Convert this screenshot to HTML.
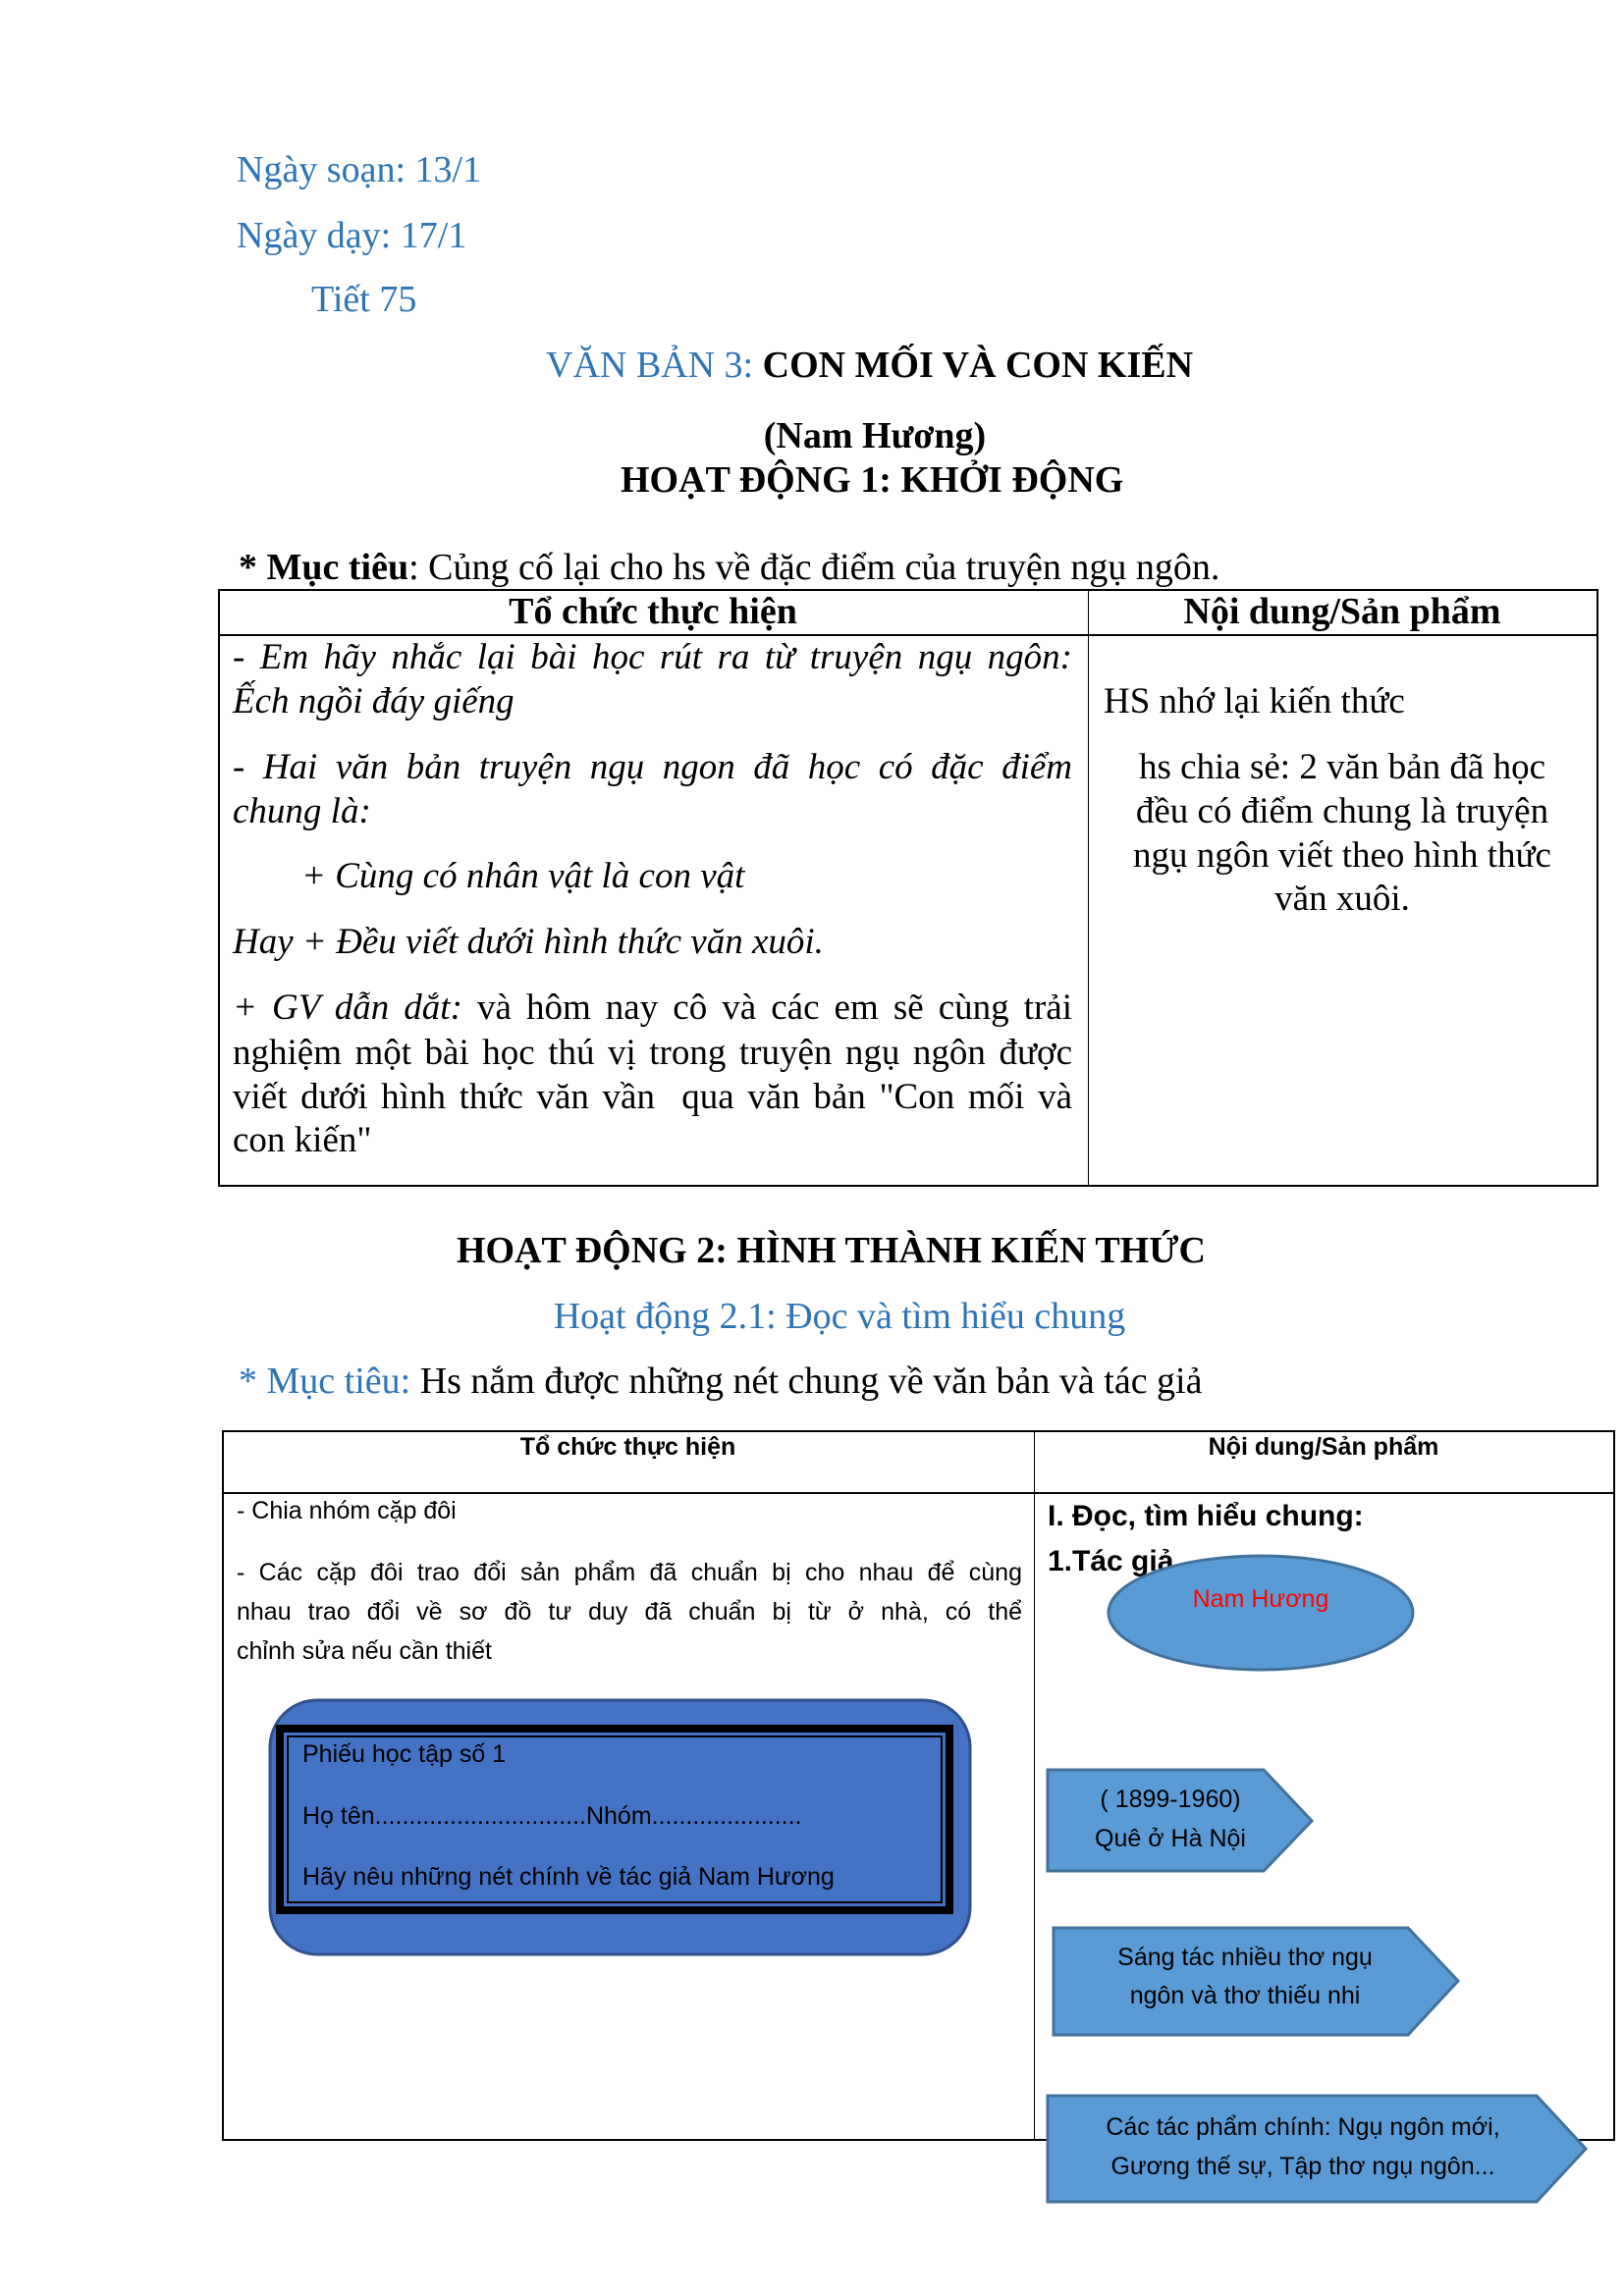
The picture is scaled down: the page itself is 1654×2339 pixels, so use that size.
<!DOCTYPE html>
<html><head><meta charset="utf-8"><style>
body{margin:0;background:#fff;}
#p{position:relative;width:1654px;height:2339px;overflow:hidden;font-family:"Liberation Serif",serif;color:#000;}
.t{position:absolute;white-space:nowrap;line-height:1;}
.b{color:#2e74b5;}
.j{position:absolute;line-height:1;text-align:justify;text-align-last:justify;white-space:nowrap;}
.c{font-family:"Liberation Sans",sans-serif;}
</style></head><body><div id="p">
<div class="t b" style="left:241px;top:154px;font-size:38px">Ngày soạn: 13/1</div>
<div class="t b" style="left:241px;top:221px;font-size:38px">Ngày dạy: 17/1</div>
<div class="t b" style="left:317px;top:286px;font-size:38px">Tiết 75</div>
<div class="t" style="left:556px;top:353px;font-size:38px"><span class="b">VĂN BẢN 3: </span><b>CON MỐI VÀ CON KIẾN</b></div>
<div class="t" style="left:0;width:1782px;text-align:center;top:425px;font-size:38px"><b>(Nam Hương)</b></div>
<div class="t" style="left:632px;top:470px;font-size:38px"><b>HOẠT ĐỘNG 1: KHỞI ĐỘNG</b></div>
<div class="t" style="left:243px;top:559px;font-size:38px"><b>* Mục tiêu</b>: Củng cố lại cho hs về đặc điểm của truyện ngụ ngôn.</div>

<div style="position:absolute;left:222px;top:600px;width:1402px;height:605px;border:2px solid #000"></div>
<div style="position:absolute;left:222px;top:646px;width:1404px;height:2px;background:#000"></div>
<div style="position:absolute;left:1108px;top:600px;width:1px;height:607px;background:#000"></div>
<div class="t" style="left:222px;width:886px;text-align:center;top:604px;font-size:38px"><b>Tổ chức thực hiện</b></div>
<div class="t" style="left:1108px;width:518px;text-align:center;top:604px;font-size:38px"><b>Nội dung/Sản phẩm</b></div>

<div class="j" style="left:237px;width:855px;top:651px;font-size:37px"><i>- Em hãy nhắc lại bài học rút ra từ truyện ngụ ngôn:</i></div>
<div class="t" style="left:237px;top:696px;font-size:37px"><i>Ếch ngồi đáy giếng</i></div>
<div class="j" style="left:237px;width:855px;top:763px;font-size:37px"><i>- Hai văn bản truyện ngụ ngon đã học có đặc điểm</i></div>
<div class="t" style="left:237px;top:808px;font-size:37px"><i>chung là:</i></div>
<div class="t" style="left:307px;top:874px;font-size:37px"><i>+ Cùng có nhân vật là con vật</i></div>
<div class="t" style="left:237px;top:941px;font-size:37px"><i>Hay + Đều viết dưới hình thức văn xuôi.</i></div>
<div class="j" style="left:237px;width:855px;top:1008px;font-size:37px"><i>+ GV dẫn dắt:</i> và hôm nay cô và các em sẽ cùng trải</div>
<div class="j" style="left:237px;width:855px;top:1054px;font-size:37px">nghiệm một bài học thú vị trong truyện ngụ ngôn được</div>
<div class="j" style="left:237px;width:855px;top:1099px;font-size:37px">viết dưới hình thức văn vần&nbsp; qua văn bản "Con mối và</div>
<div class="t" style="left:237px;top:1143px;font-size:37px">con kiến"</div>

<div class="t" style="left:1124px;top:696px;font-size:37px">HS nhớ lại kiến thức</div>
<div class="t" style="left:1108px;width:518px;text-align:center;top:763px;font-size:37px">hs chia sẻ: 2 văn bản đã học</div>
<div class="t" style="left:1108px;width:518px;text-align:center;top:808px;font-size:37px">đều có điểm chung là truyện</div>
<div class="t" style="left:1108px;width:518px;text-align:center;top:853px;font-size:37px">ngụ ngôn viết theo hình thức</div>
<div class="t" style="left:1108px;width:518px;text-align:center;top:897px;font-size:37px">văn xuôi.</div>

<div class="t" style="left:465px;top:1255px;font-size:38px"><b>HOẠT ĐỘNG 2: HÌNH THÀNH KIẾN THỨC</b></div>
<div class="t b" style="left:0;width:1710px;text-align:center;top:1322px;font-size:38px">Hoạt động 2.1: Đọc và tìm hiểu chung</div>
<div class="t" style="left:243px;top:1388px;font-size:38px"><span class="b">* Mục tiêu:</span> Hs nắm được những nét chung về văn bản và tác giả</div>

<div style="position:absolute;left:226px;top:1457px;width:1415px;height:720px;border:2px solid #000"></div>
<div style="position:absolute;left:226px;top:1520px;width:1417px;height:2px;background:#000"></div>
<div style="position:absolute;left:1053px;top:1457px;width:1px;height:722px;background:#000"></div>
<div class="t c" style="left:226px;width:827px;text-align:center;top:1462px;font-size:25px;font-weight:bold">Tổ chức thực hiện</div>
<div class="t c" style="left:1053px;width:590px;text-align:center;top:1462px;font-size:25px;font-weight:bold">Nội dung/Sản phẩm</div>

<div class="t c" style="left:241px;top:1527px;font-size:25px">- Chia nhóm cặp đôi</div>
<div class="j c" style="left:241px;width:800px;top:1590px;font-size:25px">- Các cặp đôi trao đổi sản phẩm đã chuẩn bị cho nhau để cùng</div>
<div class="j c" style="left:241px;width:800px;top:1630px;font-size:25px">nhau trao đổi về sơ đồ tư duy đã chuẩn bị từ ở nhà, có thể</div>
<div class="t c" style="left:241px;top:1670px;font-size:25px">chỉnh sửa nếu cần thiết</div>

<div class="t c" style="left:1067px;top:1530px;font-size:30px;font-weight:bold">I. Đọc, tìm hiểu chung:</div>
<div class="t c" style="left:1067px;top:1576px;font-size:30px;font-weight:bold">1.Tác giả</div>

<svg style="position:absolute;left:0;top:0" width="1654" height="2339">
<ellipse cx="1284" cy="1643" rx="155" ry="58" fill="#5b9bd5" stroke="#41719c" stroke-width="3"/>
<rect x="275" y="1732" width="713" height="259" rx="48" fill="#4472c4" stroke="#2f528f" stroke-width="3"/>
<rect x="285" y="1761" width="682" height="185" fill="none" stroke="#000" stroke-width="8"/>
<rect x="293" y="1769" width="666" height="169" fill="none" stroke="#000" stroke-width="2"/>
<polygon points="1067,1803 1287,1803 1336,1855 1287,1906 1067,1906" fill="#5b9bd5" stroke="#41719c" stroke-width="3"/>
<polygon points="1073,1964 1434,1964 1485,2018 1434,2073 1073,2073" fill="#5b9bd5" stroke="#41719c" stroke-width="3"/>
<polygon points="1067,2135 1565,2135 1615,2189 1565,2243 1067,2243" fill="#5b9bd5" stroke="#41719c" stroke-width="3"/>
</svg>
<div class="t c" style="left:1129px;width:310px;text-align:center;top:1617px;font-size:25px;color:#ff0000">Nam Hương</div>
<div class="t c" style="left:308px;top:1775px;font-size:25px">Phiếu học tập số 1</div>
<div class="t c" style="left:308px;top:1838px;font-size:25px">Họ tên...............................Nhóm......................</div>
<div class="t c" style="left:308px;top:1900px;font-size:25px">Hãy nêu những nét chính về tác giả Nam Hương</div>
<div class="t c" style="left:1067px;width:250px;text-align:center;top:1821px;font-size:25px">( 1899-1960)</div>
<div class="t c" style="left:1067px;width:250px;text-align:center;top:1861px;font-size:25px">Quê ở Hà Nội</div>
<div class="t c" style="left:1073px;width:390px;text-align:center;top:1982px;font-size:25px">Sáng tác nhiều thơ ngụ</div>
<div class="t c" style="left:1073px;width:390px;text-align:center;top:2021px;font-size:25px">ngôn và thơ thiếu nhi</div>
<div class="t c" style="left:1067px;width:520px;text-align:center;top:2155px;font-size:25px">Các tác phẩm chính: Ngụ ngôn mới,</div>
<div class="t c" style="left:1067px;width:520px;text-align:center;top:2195px;font-size:25px">Gương thế sự, Tập thơ ngụ ngôn...</div>
</div></body></html>
